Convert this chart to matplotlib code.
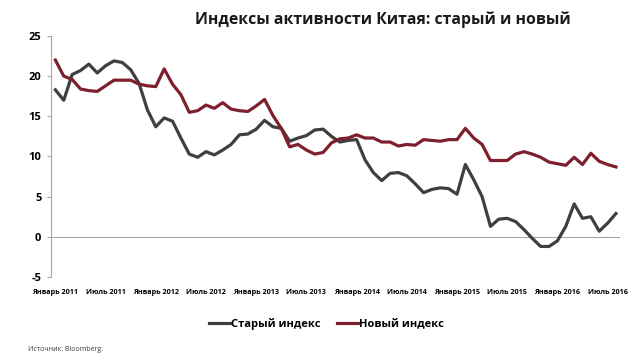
import matplotlib
matplotlib.use("Agg")
import matplotlib.pyplot as plt

plt.rcParams["font.family"] = ["Open Sans", "DejaVu Sans"]

# monthly values, January 2011 .. August 2016
old_index = [
    18.3, 17.0, 20.2, 20.7, 21.5, 20.4, 21.3, 21.9, 21.7, 20.8, 19.1, 15.8,
    13.7, 14.8, 14.4, 12.3, 10.3, 9.9, 10.6, 10.2, 10.8, 11.5, 12.7, 12.8,
    13.4, 14.5, 13.7, 13.5, 11.9, 12.3, 12.6, 13.3, 13.4, 12.5, 11.8, 12.0,
    12.1, 9.6, 8.0, 7.0, 7.9, 8.0, 7.6, 6.6, 5.5, 5.9, 6.1, 6.0,
    5.3, 9.0, 7.1, 5.0, 1.3, 2.2, 2.3, 1.9, 0.9, -0.2, -1.2, -1.2,
    -0.5, 1.3, 4.1, 2.3, 2.5, 0.7, 1.7, 2.9,
]
new_index = [
    22.0, 20.0, 19.6, 18.4, 18.2, 18.1, 18.8, 19.5, 19.5, 19.5, 19.0, 18.8,
    18.7, 20.9, 19.0, 17.7, 15.5, 15.7, 16.4, 16.0, 16.7, 15.9, 15.7, 15.6,
    16.3, 17.1, 15.1, 13.5, 11.2, 11.5, 10.8, 10.3, 10.5, 11.7, 12.2, 12.3,
    12.7, 12.3, 12.3, 11.8, 11.8, 11.3, 11.5, 11.4, 12.1, 12.0, 11.9, 12.1,
    12.1, 13.5, 12.3, 11.5, 9.5, 9.5, 9.5, 10.3, 10.6, 10.3, 9.9, 9.3,
    9.1, 8.9, 9.9, 9.0, 10.4, 9.4, 9.0, 8.7,
]
tick_labels = [
    "Январь 2011", "Июль 2011", "Январь 2012", "Июль 2012",
    "Январь 2013", "Июль 2013", "Январь 2014", "Июль 2014",
    "Январь 2015", "Июль 2015", "Январь 2016", "Июль 2016",
]

OLD_COLOR = "#3f3f3f"
NEW_COLOR = "#7d1f2c"
AXIS_COLOR = "#a6a6a6"

months = list(range(len(old_index)))

fig = plt.figure(figsize=(6.4, 3.6), dpi=100)
ax = fig.add_axes([0.08, 0.2306, 0.889, 0.6694])

ax.plot(months, old_index, color=OLD_COLOR, lw=2.3, label="Старый индекс", zorder=3)
ax.plot(months, new_index, color=NEW_COLOR, lw=2.3, label="Новый индекс", zorder=3)
ax.axhline(0, color=AXIS_COLOR, lw=0.8, zorder=1)

ax.set_ylim(-5, 25)
ax.set_xlim(-0.5, 67.5)
ax.set_yticks(range(-5, 26, 5))
ax.set_yticklabels([str(v) for v in range(-5, 26, 5)], fontsize=8, fontweight="bold")
ax.set_xticks(range(0, len(old_index), 6))
ax.set_xticklabels(tick_labels, fontsize=5.2, fontweight="bold")

for side in ("top", "right", "bottom"):
    ax.spines[side].set_visible(False)
ax.spines["left"].set_color(AXIS_COLOR)
ax.tick_params(axis="y", length=3, color=AXIS_COLOR, pad=4)
ax.tick_params(axis="x", length=0, pad=9)

fig.text(0.598, 0.945, "Индексы активности Китая: старый и новый",
         ha="center", va="center", fontsize=11.3, fontweight="bold", color="#1a1a1a")

fig.legend(loc="center", bbox_to_anchor=(0.51, 0.1), ncol=2, frameon=False,
           handlelength=1.9, handletextpad=0.05, columnspacing=1.5,
           prop={"weight": "bold", "size": 8})

fig.text(0.044, 0.028, "Источник: Bloomberg.", fontsize=5, color="#404040",
         ha="left", va="center")

fig.savefig("out.png", dpi=100)
